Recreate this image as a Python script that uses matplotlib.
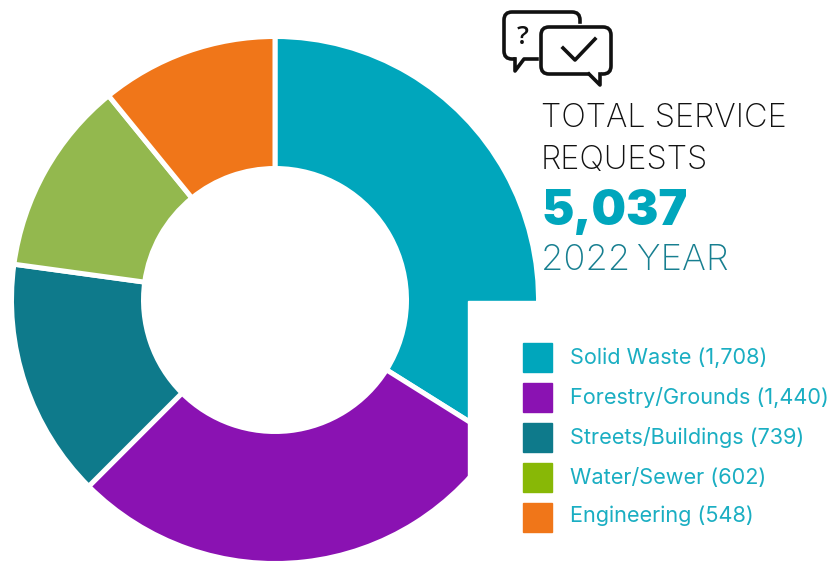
import matplotlib.pyplot as plt
from matplotlib.patches import Rectangle, FancyBboxPatch

# Data
categories = ['Solid Waste', 'Forestry/Grounds', 'Streets/Buildings', 'Water/Sewer', 'Engineering']
requests = [1708, 1440, 739, 602, 548]
pie_colors = ['#00A6BC', '#8A12B2', '#0E7A8B', '#93B84E', '#F07619']
legend_colors = ['#00A6BC', '#8A12B2', '#0E7A8B', '#88B806', '#F07619']
total_label = '5,037'
year_label = '2022\u2009YEAR'

H = 562
INK = '#111111'

fig = plt.figure(figsize=(8.31, 5.62), dpi=100)
ax = fig.add_axes([0, 0, 1, 1])

# Donut, in pixel coordinates
ax.pie(requests, colors=pie_colors, startangle=90, counterclock=False,
       center=(275, H - 300), radius=263.5,
       wedgeprops=dict(width=132, edgecolor='white', linewidth=3.6))
ax.set_xlim(0, 831)
ax.set_ylim(0, H)
ax.set_aspect('equal')
ax.axis('off')

# The white box that cuts off the lower right of the donut
ax.add_patch(Rectangle((468, 0), 363, H - 301, color='white', zorder=3))

# Speech bubbles icon
ax.add_patch(FancyBboxPatch((504, H - 59), 76, 47, boxstyle='round,pad=0,rounding_size=8',
                            fc='none', ec=INK, lw=2.6, zorder=4))
ax.add_patch(Rectangle((516, H - 62), 26, 6, color='white', zorder=4))
ax.add_patch(Rectangle((570, H - 30), 14, 6, color='white', zorder=4))
ax.plot([515, 515, 524, 537], [H - 59, H - 71, H - 59, H - 59], color=INK, lw=2.6, zorder=5)
ax.add_patch(FancyBboxPatch((541, H - 74), 70, 47, boxstyle='round,pad=0,rounding_size=8',
                            fc='white', ec=INK, lw=2.6, zorder=5))
ax.add_patch(Rectangle((590, H - 77), 10, 6, color='white', zorder=6))
ax.plot([589, 600, 600], [H - 74, H - 85, H - 74], color=INK, lw=2.6, zorder=7)
ax.plot([563, 575, 595], [H - 48, H - 60, H - 39], color=INK, lw=2.6, zorder=7)
ax.text(523, H - 37, '?', fontsize=19, fontweight='semibold', family='Open Sans',
        ha='center', va='center', color=INK, zorder=7)

# Heading
ax.text(541, H - 127, 'TOTAL SERVICE', fontsize=23.4, family='Inter', fontweight='light',
        color=INK, va='baseline', zorder=4)
ax.text(541, H - 169, 'REQUESTS', fontsize=23.4, family='Inter', fontweight='light',
        color=INK, va='baseline', zorder=4)
ax.text(541, H - 225, total_label, fontsize=35, family='Inter', fontweight='black',
        color='#00A6BC', va='baseline', zorder=4)
ax.text(541, H - 270, year_label, fontsize=26.2, family='Inter', fontweight='light',
        color='#177F90', va='baseline', zorder=4)

# Legend
for i, (name, value, color) in enumerate(zip(categories, requests, legend_colors)):
    top = 343 + 40 * i
    ax.add_patch(Rectangle((523, H - top - 29), 29, 29, color=color, zorder=4))
    nudge = -2 if i == 4 else 0
    ax.text(570, H - top - 15 - nudge, f'{name} ({value:,})', fontsize=15.6, family='Inter',
            color='#1AAEC2', va='center', zorder=4)

plt.savefig('out.png', dpi=100)
